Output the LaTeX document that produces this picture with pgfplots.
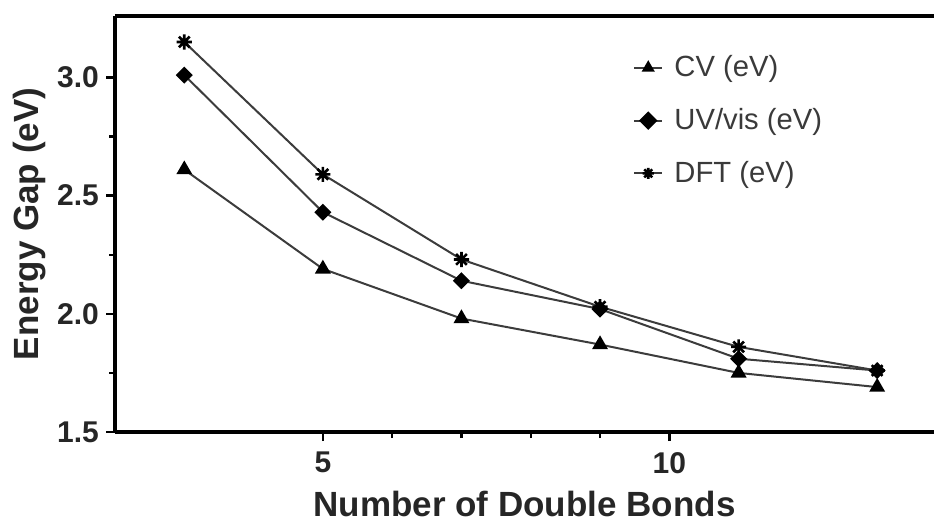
\documentclass[border=0pt]{standalone}
\usepackage{fontspec}
\setmainfont{Liberation Sans}
\usepackage{pgfplots}
\pgfplotsset{compat=1.18}
\definecolor{lineg}{HTML}{3C3C3C}
\definecolor{txtg}{HTML}{3A3A3A}
\pgfdeclareplotmark{star8}{%
  \pgfpathmoveto{\pgfqpoint{0pt}{\pgfplotmarksize}}\pgfpathlineto{\pgfqpoint{0pt}{-\pgfplotmarksize}}%
  \pgfpathmoveto{\pgfqpoint{\pgfplotmarksize}{0pt}}\pgfpathlineto{\pgfqpoint{-\pgfplotmarksize}{0pt}}%
  \pgfpathmoveto{\pgfqpoint{.7071\pgfplotmarksize}{.7071\pgfplotmarksize}}\pgfpathlineto{\pgfqpoint{-.7071\pgfplotmarksize}{-.7071\pgfplotmarksize}}%
  \pgfpathmoveto{\pgfqpoint{-.7071\pgfplotmarksize}{.7071\pgfplotmarksize}}\pgfpathlineto{\pgfqpoint{.7071\pgfplotmarksize}{-.7071\pgfplotmarksize}}%
  \pgfusepathqstroke}
\begin{document}
\begin{tikzpicture}
\begin{axis}[
  name=ax,
  scale only axis,
  width=409.5pt, height=208pt,
  xmin=2, xmax=13.82, ymin=1.5, ymax=3.26,
  axis x line=box, axis y line=left,
  axis line style={line width=1.8pt, black, -},
  xtick={5,10}, minor x tick num=4,
  ytick={1.5,2.0,2.5,3.0}, minor y tick num=1,
  tick align=outside,
  xtick pos=bottom, ytick pos=left,
  major tick length=4.5pt, minor tick length=3pt,
  every tick/.style={black, line width=1.2pt},
  /pgf/number format/assume math mode=true,
  yticklabel style={/pgf/number format/.cd, fixed, fixed zerofill, precision=1},
  tick label style={font=\bfseries\fontsize{15}{18}\selectfont, text=black!85},
  xticklabel style={yshift=-2pt},
  xlabel={Number of Double Bonds},
  ylabel={Energy Gap (eV)},
  label style={font=\bfseries\fontsize{17.5}{21}\selectfont, text=black!85},
  xlabel style={at={(axis description cs:0.5,-0.172)}, anchor=center},
  ylabel style={at={(axis description cs:-0.104,0.5)}, anchor=center},
  legend style={draw=none, fill=none, at={(axis description cs:0.632,0.915)}, anchor=north west,
    font=\fontsize{14.6}{17}\selectfont, text=txtg, row sep=10.3pt, column sep=3.5pt, inner sep=0pt},
  legend cell align=left,
  legend image code/.code={\draw[mark repeat=2,mark phase=2, mark size=2.8pt] plot coordinates {(0cm,0cm) (0.25cm,0cm) (0.5cm,0cm)};},
]
\addplot[lineg, line width=1pt, mark=triangle*, mark size=3.6pt, mark options={black, solid}]
  coordinates {(3,2.61) (5,2.19) (7,1.98) (9,1.87) (11,1.75) (13,1.69)};
\addlegendentry{CV (eV)}
\addplot[lineg, line width=1pt, mark=square*, mark size=2.5pt, mark options={black, solid, rotate=45}]
  coordinates {(3,3.01) (5,2.43) (7,2.14) (9,2.02) (11,1.81) (13,1.76)};
\addlegendentry{UV/vis (eV)}
\addplot[lineg, line width=1pt, mark=star8, mark size=3.8pt, mark options={black, solid, line width=1.3pt}]
  coordinates {(3,3.15) (5,2.59) (7,2.23) (9,2.03) (11,1.86) (13,1.76)};
\addlegendentry{DFT (eV)}
\end{axis}
\pgfresetboundingbox
\path ([xshift=-57.5pt,yshift=-45.5pt]ax.south west) rectangle ([yshift=8pt]ax.north east);
\end{tikzpicture}
\end{document}
